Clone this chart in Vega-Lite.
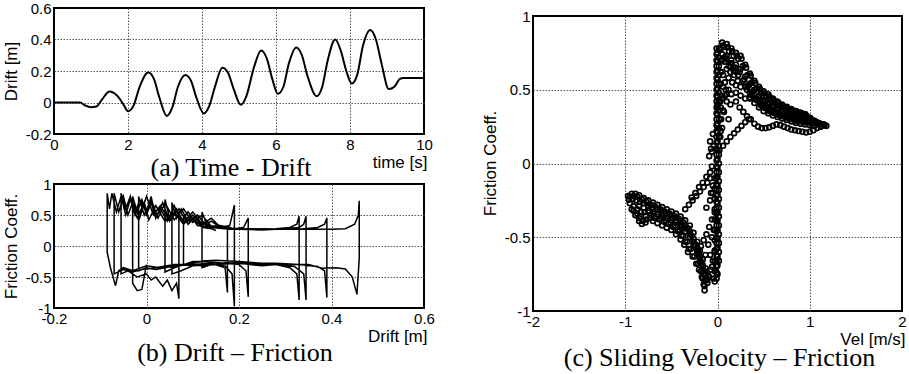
{
"$schema": "https://vega.github.io/schema/vega-lite/v6.json",
"padding": {"left": 0, "top": 0, "right": 0, "bottom": 0},
"background": "white",
"config": {
  "locale": {"number": {"decimal": ".", "thousands": ",", "grouping": [3], "currency": ["$", ""], "minus": "-"}},
  "view": {"stroke": "black", "strokeWidth": 2},
  "axis": {"labelFont": "Liberation Sans", "labelFontSize": 15, "labelColor": "black", "titleFont": "Liberation Sans", "titleFontSize": 17, "titleFontWeight": "normal", "titleColor": "black", "ticks": false, "domain": false, "grid": true, "gridColor": "#555555", "gridDash": [1.5, 1.5], "gridWidth": 1, "labelOverlap": false, "labelFlush": false, "labelPadding": 3, "format": "~r"},
  "title": {"font": "Liberation Serif", "fontSize": 26, "fontWeight": "normal", "color": "black", "orient": "bottom", "anchor": "middle", "baseline": "alphabetic", "frame": "group"}
},
"datasets": {
  "drift": [
    {"t":0,"y":0},{"t":0.5,"y":0},{"t":0.7,"y":0},{"t":0.85,"y":-0.02},{"t":1.0,"y":-0.03},{"t":1.15,"y":-0.025},{"t":1.3,"y":0.02},{"t":1.5,"y":0.07},{"t":1.7,"y":0.045},{"t":1.87,"y":-0.01},{"t":2.0,"y":-0.055},{"t":2.15,"y":-0.02},{"t":2.3,"y":0.09},{"t":2.55,"y":0.19},{"t":2.7,"y":0.15},{"t":2.85,"y":0.03},{"t":3.05,"y":-0.085},{"t":3.2,"y":-0.03},{"t":3.35,"y":0.1},{"t":3.55,"y":0.175},{"t":3.7,"y":0.14},{"t":3.85,"y":0.03},{"t":4.05,"y":-0.07},{"t":4.2,"y":-0.02},{"t":4.35,"y":0.1},{"t":4.55,"y":0.22},{"t":4.7,"y":0.19},{"t":4.85,"y":0.09},{"t":5.05,"y":-0.015},{"t":5.2,"y":0.04},{"t":5.4,"y":0.22},{"t":5.6,"y":0.33},{"t":5.75,"y":0.28},{"t":5.9,"y":0.15},{"t":6.05,"y":0.055},{"t":6.2,"y":0.1},{"t":6.35,"y":0.25},{"t":6.55,"y":0.35},{"t":6.7,"y":0.3},{"t":6.85,"y":0.17},{"t":7.1,"y":0.04},{"t":7.25,"y":0.1},{"t":7.4,"y":0.27},{"t":7.6,"y":0.4},{"t":7.75,"y":0.33},{"t":7.9,"y":0.2},{"t":8.05,"y":0.12},{"t":8.2,"y":0.18},{"t":8.35,"y":0.36},{"t":8.55,"y":0.46},{"t":8.7,"y":0.4},{"t":8.85,"y":0.25},{"t":9.05,"y":0.085},{"t":9.2,"y":0.1},{"t":9.35,"y":0.15},{"t":9.45,"y":0.155},{"t":10,"y":0.155}
  ],
  "loop": [
    {"i":1,"d":0,"f":-0.3},{"i":2,"d":-0.01,"f":-0.7},{"i":3,"d":-0.02,"f":-0.72},{"i":4,"d":-0.03,"f":-0.6},
    {"i":5,"d":-0.03,"f":0.8},{"i":6,"d":-0.02,"f":0.55},{"i":7,"d":-0.01,"f":0.75},{"i":8,"d":0,"f":0.5},{"i":9,"d":0.01,"f":0.7},{"i":10,"d":0.02,"f":0.45},{"i":11,"d":0.03,"f":0.6},{"i":12,"d":0.045,"f":0.4},{"i":13,"d":0.055,"f":0.55},{"i":14,"d":0.07,"f":0.45},
    {"i":15,"d":0.07,"f":-0.85},{"i":16,"d":0.065,"f":-0.6},{"i":17,"d":0.055,"f":-0.72},{"i":18,"d":0.045,"f":-0.55},{"i":19,"d":0.035,"f":-0.65},{"i":20,"d":0.02,"f":-0.5},{"i":21,"d":0.01,"f":-0.55},{"i":22,"d":0,"f":-0.45},{"i":23,"d":-0.02,"f":-0.5},{"i":24,"d":-0.04,"f":-0.4},{"i":25,"d":-0.055,"f":-0.45},
    {"i":26,"d":-0.055,"f":0.85},{"i":27,"d":-0.045,"f":0.6},{"i":28,"d":-0.035,"f":0.8},{"i":29,"d":-0.025,"f":0.5},{"i":30,"d":-0.015,"f":0.75},{"i":31,"d":0,"f":0.55},{"i":32,"d":0.01,"f":0.8},{"i":33,"d":0.02,"f":0.45},{"i":34,"d":0.035,"f":0.7},{"i":35,"d":0.05,"f":0.4},{"i":36,"d":0.065,"f":0.6},{"i":37,"d":0.08,"f":0.38},{"i":38,"d":0.1,"f":0.55},{"i":39,"d":0.12,"f":0.35},{"i":40,"d":0.14,"f":0.45},{"i":41,"d":0.16,"f":0.3},{"i":42,"d":0.18,"f":0.33},{"i":43,"d":0.19,"f":0.66},
    {"i":44,"d":0.19,"f":-0.97},{"i":45,"d":0.185,"f":-0.45},{"i":46,"d":0.17,"f":-0.32},{"i":47,"d":0.15,"f":-0.3},{"i":48,"d":0.12,"f":-0.32},{"i":49,"d":0.09,"f":-0.3},{"i":50,"d":0.06,"f":-0.33},{"i":51,"d":0.03,"f":-0.35},{"i":52,"d":0,"f":-0.32},{"i":53,"d":-0.03,"f":-0.4},{"i":54,"d":-0.05,"f":-0.35},{"i":55,"d":-0.06,"f":-0.4},{"i":56,"d":-0.067,"f":-0.64},{"i":57,"d":-0.078,"f":-0.35},{"i":58,"d":-0.085,"f":-0.1},
    {"i":59,"d":-0.085,"f":0.85},{"i":60,"d":-0.08,"f":0.6},{"i":61,"d":-0.075,"f":0.85},{"i":62,"d":-0.065,"f":0.55},{"i":63,"d":-0.055,"f":0.8},{"i":64,"d":-0.045,"f":0.5},{"i":65,"d":-0.035,"f":0.75},{"i":66,"d":-0.02,"f":0.45},{"i":67,"d":-0.005,"f":0.7},{"i":68,"d":0.005,"f":0.42},{"i":69,"d":0.02,"f":0.65},{"i":70,"d":0.04,"f":0.4},{"i":71,"d":0.06,"f":0.55},{"i":72,"d":0.08,"f":0.35},{"i":73,"d":0.1,"f":0.5},{"i":74,"d":0.12,"f":0.33},{"i":75,"d":0.14,"f":0.4},{"i":76,"d":0.16,"f":0.3},{"i":77,"d":0.175,"f":0.32},
    {"i":78,"d":0.175,"f":-0.75},{"i":79,"d":0.17,"f":-0.35},{"i":80,"d":0.14,"f":-0.28},{"i":81,"d":0.1,"f":-0.3},{"i":82,"d":0.06,"f":-0.3},{"i":83,"d":0.02,"f":-0.35},{"i":84,"d":-0.01,"f":-0.38},{"i":85,"d":-0.03,"f":-0.42},{"i":86,"d":-0.05,"f":-0.38},{"i":87,"d":-0.07,"f":-0.45},
    {"i":88,"d":-0.07,"f":0.85},{"i":89,"d":-0.06,"f":0.55},{"i":90,"d":-0.05,"f":0.8},{"i":91,"d":-0.04,"f":0.5},{"i":92,"d":-0.03,"f":0.7},{"i":93,"d":-0.015,"f":0.45},{"i":94,"d":0,"f":0.8},{"i":95,"d":0.015,"f":0.5},{"i":96,"d":0.03,"f":0.65},{"i":97,"d":0.05,"f":0.4},{"i":98,"d":0.07,"f":0.6},{"i":99,"d":0.09,"f":0.35},{"i":100,"d":0.11,"f":0.5},{"i":101,"d":0.13,"f":0.32},{"i":102,"d":0.16,"f":0.33},{"i":103,"d":0.19,"f":0.28},{"i":104,"d":0.21,"f":0.3},{"i":105,"d":0.22,"f":0.45},
    {"i":106,"d":0.22,"f":-0.82},{"i":107,"d":0.215,"f":-0.4},{"i":108,"d":0.2,"f":-0.3},{"i":109,"d":0.17,"f":-0.28},{"i":110,"d":0.13,"f":-0.3},{"i":111,"d":0.1,"f":-0.32},{"i":112,"d":0.07,"f":-0.3},{"i":113,"d":0.04,"f":-0.35},{"i":114,"d":0.02,"f":-0.38},{"i":115,"d":0,"f":-0.35},{"i":116,"d":-0.017,"f":-0.4},
    {"i":117,"d":-0.017,"f":0.8},{"i":118,"d":-0.005,"f":0.5},{"i":119,"d":0.01,"f":0.75},{"i":120,"d":0.025,"f":0.45},{"i":121,"d":0.04,"f":0.7},{"i":122,"d":0.06,"f":0.42},{"i":123,"d":0.08,"f":0.6},{"i":124,"d":0.1,"f":0.38},{"i":125,"d":0.12,"f":0.5},{"i":126,"d":0.14,"f":0.32},{"i":127,"d":0.17,"f":0.3},{"i":128,"d":0.2,"f":0.27},{"i":129,"d":0.24,"f":0.27},{"i":130,"d":0.28,"f":0.28},{"i":131,"d":0.31,"f":0.3},{"i":132,"d":0.325,"f":0.35},{"i":133,"d":0.33,"f":0.48},
    {"i":134,"d":0.33,"f":-0.87},{"i":135,"d":0.325,"f":-0.45},{"i":136,"d":0.31,"f":-0.35},{"i":137,"d":0.28,"f":-0.3},{"i":138,"d":0.25,"f":-0.32},{"i":139,"d":0.2,"f":-0.28},{"i":140,"d":0.15,"f":-0.3},{"i":141,"d":0.1,"f":-0.32},{"i":142,"d":0.075,"f":-0.4},{"i":143,"d":0.055,"f":-0.45},
    {"i":144,"d":0.055,"f":0.7},{"i":145,"d":0.065,"f":0.45},{"i":146,"d":0.075,"f":0.6},{"i":147,"d":0.09,"f":0.4},{"i":148,"d":0.11,"f":0.5},{"i":149,"d":0.13,"f":0.33},{"i":150,"d":0.16,"f":0.3},{"i":151,"d":0.2,"f":0.27},{"i":152,"d":0.25,"f":0.26},{"i":153,"d":0.3,"f":0.28},{"i":154,"d":0.33,"f":0.3},{"i":155,"d":0.34,"f":0.35},{"i":156,"d":0.345,"f":0.48},
    {"i":157,"d":0.345,"f":-0.87},{"i":158,"d":0.34,"f":-0.45},{"i":159,"d":0.32,"f":-0.33},{"i":160,"d":0.28,"f":-0.3},{"i":161,"d":0.22,"f":-0.29},{"i":162,"d":0.16,"f":-0.27},{"i":163,"d":0.12,"f":-0.25},{"i":164,"d":0.08,"f":-0.3},{"i":165,"d":0.06,"f":-0.35},{"i":166,"d":0.04,"f":-0.42},
    {"i":167,"d":0.04,"f":0.75},{"i":168,"d":0.05,"f":0.45},{"i":169,"d":0.06,"f":0.65},{"i":170,"d":0.075,"f":0.4},{"i":171,"d":0.09,"f":0.55},{"i":172,"d":0.11,"f":0.33},{"i":173,"d":0.14,"f":0.3},{"i":174,"d":0.18,"f":0.27},{"i":175,"d":0.23,"f":0.28},{"i":176,"d":0.28,"f":0.27},{"i":177,"d":0.33,"f":0.27},{"i":178,"d":0.37,"f":0.3},{"i":179,"d":0.385,"f":0.35},{"i":180,"d":0.39,"f":0.45},
    {"i":181,"d":0.39,"f":-0.83},{"i":182,"d":0.385,"f":-0.4},{"i":183,"d":0.37,"f":-0.33},{"i":184,"d":0.33,"f":-0.3},{"i":185,"d":0.28,"f":-0.28},{"i":186,"d":0.22,"f":-0.28},{"i":187,"d":0.17,"f":-0.27},{"i":188,"d":0.14,"f":-0.3},{"i":189,"d":0.12,"f":-0.35},
    {"i":190,"d":0.12,"f":0.55},{"i":191,"d":0.13,"f":0.35},{"i":192,"d":0.15,"f":0.3},{"i":193,"d":0.2,"f":0.27},{"i":194,"d":0.25,"f":0.27},{"i":195,"d":0.3,"f":0.27},{"i":196,"d":0.35,"f":0.27},{"i":197,"d":0.4,"f":0.27},{"i":198,"d":0.43,"f":0.28},{"i":199,"d":0.45,"f":0.35},{"i":200,"d":0.458,"f":0.5},{"i":201,"d":0.46,"f":0.73},
    {"i":202,"d":0.46,"f":-0.2},{"i":203,"d":0.455,"f":-0.78},{"i":204,"d":0.445,"f":-0.5},{"i":205,"d":0.43,"f":-0.37},{"i":206,"d":0.41,"f":-0.35},{"i":207,"d":0.38,"f":-0.36},{"i":208,"d":0.35,"f":-0.3},{"i":209,"d":0.3,"f":-0.3},{"i":210,"d":0.25,"f":-0.28},{"i":211,"d":0.2,"f":-0.25},{"i":212,"d":0.15,"f":-0.23},{"i":213,"d":0.1,"f":-0.25},{"i":214,"d":0.08,"f":-0.3},
    {"i":215,"d":0.08,"f":0.5},{"i":216,"d":0.09,"f":0.35},{"i":217,"d":0.1,"f":0.45},{"i":218,"d":0.12,"f":0.3},{"i":219,"d":0.14,"f":0.28},{"i":220,"d":0.15,"f":0.25}
  ],
  "vel": [
    {"v":0.05,"f":0.82},{"v":0.1,"f":0.81},{"v":0.15,"f":0.78},{"v":0.2,"f":0.75},{"v":0.25,"f":0.73},{"v":0.3,"f":0.67},{"v":0.35,"f":0.61},{"v":0.4,"f":0.56},{"v":0.45,"f":0.52},{"v":0.5,"f":0.49},{"v":0.55,"f":0.47},{"v":0.6,"f":0.44},{"v":0.65,"f":0.42},{"v":0.7,"f":0.4},{"v":0.75,"f":0.385},{"v":0.8,"f":0.37},{"v":0.85,"f":0.355},{"v":0.9,"f":0.345},{"v":0.95,"f":0.335},{"v":1.0,"f":0.31},{"v":1.05,"f":0.29},{"v":1.1,"f":0.275},{"v":1.15,"f":0.265},{"v":1.18,"f":0.255},
    {"v":0.06,"f":0.8},{"v":0.11,"f":0.79},{"v":0.16,"f":0.76},{"v":0.21,"f":0.73},{"v":0.26,"f":0.71},{"v":0.31,"f":0.65},{"v":0.36,"f":0.595},{"v":0.41,"f":0.545},{"v":0.46,"f":0.505},{"v":0.51,"f":0.475},{"v":0.56,"f":0.455},{"v":0.61,"f":0.43},{"v":0.66,"f":0.41},{"v":0.71,"f":0.39},{"v":0.76,"f":0.375},{"v":0.81,"f":0.36},{"v":0.86,"f":0.35},{"v":0.91,"f":0.34},{"v":0.96,"f":0.325},{"v":1.01,"f":0.305},{"v":1.06,"f":0.285},{"v":1.11,"f":0.27},{"v":1.16,"f":0.26},
    {"v":0.03,"f":0.78},{"v":0.075,"f":0.79},{"v":0.125,"f":0.76},{"v":0.175,"f":0.73},{"v":0.225,"f":0.71},{"v":0.275,"f":0.66},{"v":0.325,"f":0.6},{"v":0.375,"f":0.55},{"v":0.425,"f":0.51},{"v":0.475,"f":0.48},{"v":0.525,"f":0.455},{"v":0.575,"f":0.435},{"v":0.625,"f":0.415},{"v":0.675,"f":0.395},{"v":0.725,"f":0.38},{"v":0.775,"f":0.365},{"v":0.825,"f":0.35},{"v":0.875,"f":0.34},{"v":0.925,"f":0.33},{"v":0.975,"f":0.315},{"v":1.025,"f":0.295},{"v":1.075,"f":0.28},{"v":1.125,"f":0.265},
    {"v":0.05,"f":0.74},{"v":0.1,"f":0.73},{"v":0.15,"f":0.7},{"v":0.2,"f":0.67},{"v":0.25,"f":0.64},{"v":0.3,"f":0.59},{"v":0.35,"f":0.54},{"v":0.4,"f":0.5},{"v":0.45,"f":0.46},{"v":0.5,"f":0.43},{"v":0.55,"f":0.41},{"v":0.6,"f":0.39},{"v":0.65,"f":0.37},{"v":0.7,"f":0.36},{"v":0.75,"f":0.345},{"v":0.8,"f":0.335},{"v":0.85,"f":0.325},{"v":0.9,"f":0.315},{"v":0.95,"f":0.305},{"v":1.0,"f":0.29},{"v":1.05,"f":0.275},{"v":1.1,"f":0.265},
    {"v":0.09,"f":0.71},{"v":0.14,"f":0.68},{"v":0.19,"f":0.65},{"v":0.24,"f":0.62},{"v":0.29,"f":0.57},{"v":0.34,"f":0.53},{"v":0.39,"f":0.49},{"v":0.44,"f":0.45},{"v":0.49,"f":0.42},{"v":0.54,"f":0.4},{"v":0.59,"f":0.38},{"v":0.64,"f":0.365},{"v":0.69,"f":0.35},{"v":0.74,"f":0.34},{"v":0.79,"f":0.33},{"v":0.84,"f":0.32},{"v":0.89,"f":0.31},{"v":0.94,"f":0.3},{"v":0.99,"f":0.29},{"v":1.04,"f":0.28},{"v":1.09,"f":0.27},
    {"v":0.075,"f":0.69},{"v":0.125,"f":0.66},{"v":0.175,"f":0.63},{"v":0.225,"f":0.6},{"v":0.275,"f":0.56},{"v":0.325,"f":0.52},{"v":0.375,"f":0.48},{"v":0.425,"f":0.44},{"v":0.475,"f":0.41},{"v":0.525,"f":0.39},{"v":0.575,"f":0.37},{"v":0.625,"f":0.355},{"v":0.675,"f":0.34},{"v":0.725,"f":0.33},{"v":0.775,"f":0.32},{"v":0.825,"f":0.31},{"v":0.875,"f":0.3},{"v":0.925,"f":0.295},{"v":0.975,"f":0.285},{"v":1.025,"f":0.275},
    {"v":0.32,"f":0.5},{"v":0.37,"f":0.465},{"v":0.42,"f":0.43},{"v":0.47,"f":0.395},{"v":0.52,"f":0.375},{"v":0.57,"f":0.355},{"v":0.62,"f":0.34},{"v":0.67,"f":0.33},{"v":0.72,"f":0.32},{"v":0.77,"f":0.31},{"v":0.82,"f":0.305},{"v":0.87,"f":0.295},{"v":0.92,"f":0.29},{"v":0.97,"f":0.28},{"v":1.02,"f":0.27},
    {"v":0.3,"f":0.52},{"v":0.35,"f":0.48},{"v":0.4,"f":0.44},{"v":0.45,"f":0.41},{"v":0.5,"f":0.38},{"v":0.55,"f":0.36},{"v":0.6,"f":0.345},{"v":0.65,"f":0.33},{"v":0.7,"f":0.32},{"v":0.75,"f":0.31},{"v":0.8,"f":0.3},{"v":0.85,"f":0.29},{"v":0.9,"f":0.285},{"v":0.95,"f":0.28},
    {"v":0.35,"f":0.44},{"v":0.4,"f":0.41},{"v":0.45,"f":0.38},{"v":0.5,"f":0.355},{"v":0.55,"f":0.34},{"v":0.6,"f":0.325},{"v":0.65,"f":0.315},{"v":0.7,"f":0.305},{"v":0.75,"f":0.295},{"v":0.8,"f":0.285},{"v":0.85,"f":0.275},{"v":0.9,"f":0.27},{"v":0.95,"f":0.265},{"v":1.0,"f":0.26},{"v":1.05,"f":0.255},
    {"v":0.0,"f":0.4},{"v":0.05,"f":0.44},{"v":0.1,"f":0.47},{"v":0.15,"f":0.47},{"v":0.2,"f":0.48},{"v":0.25,"f":0.46},{"v":0.3,"f":0.44},{"v":0.35,"f":0.45},{"v":0.4,"f":0.44},{"v":0.45,"f":0.42},
    {"v":0.2,"f":0.42},{"v":0.24,"f":0.38},{"v":0.28,"f":0.35},{"v":0.32,"f":0.32},{"v":0.36,"f":0.3},{"v":0.4,"f":0.27},{"v":0.44,"f":0.25},{"v":0.48,"f":0.24},{"v":0.52,"f":0.24},{"v":0.56,"f":0.245},{"v":0.6,"f":0.255},{"v":0.64,"f":0.265},{"v":0.68,"f":0.26},{"v":0.72,"f":0.25},{"v":0.76,"f":0.24},{"v":0.8,"f":0.23},{"v":0.84,"f":0.225},{"v":0.88,"f":0.22},{"v":0.92,"f":0.215},{"v":0.96,"f":0.21},{"v":1.0,"f":0.215},{"v":1.04,"f":0.225},{"v":1.08,"f":0.24},{"v":1.12,"f":0.25},
    {"v":0.02,"f":0.09},{"v":0.06,"f":0.12},{"v":0.1,"f":0.15},{"v":0.14,"f":0.18},{"v":0.18,"f":0.205},{"v":0.22,"f":0.23},{"v":0.26,"f":0.255},{"v":0.3,"f":0.28},{"v":0.34,"f":0.3},
    {"v":0.08,"f":0.72},{"v":0.1,"f":0.64},{"v":0.12,"f":0.58},{"v":0.08,"f":0.55},{"v":0.14,"f":0.62},{"v":0.16,"f":0.55},{"v":0.18,"f":0.6},{"v":0.2,"f":0.53},{"v":0.12,"f":0.5},{"v":0.22,"f":0.56},{"v":0.06,"f":0.6},{"v":0.09,"f":0.5},{"v":0.15,"f":0.68},{"v":0.25,"f":0.52},{"v":0.2,"f":0.62},{"v":0.1,"f":0.42},{"v":0.14,"f":0.4},{"v":0.07,"f":0.35},{"v":0.12,"f":0.3},
    {"v":0.04,"f":0.3},{"v":0.06,"f":0.36},{"v":0.03,"f":0.42},{"v":0.08,"f":0.46},{"v":0.05,"f":0.24},{"v":0.03,"f":0.18},{"v":-0.04,"f":0.12},{"v":-0.06,"f":0.08},{"v":-0.05,"f":0.2},{"v":0.06,"f":0.52},{"v":0.04,"f":0.62},{"v":0.05,"f":0.7},{"v":-0.08,"f":0.15},{"v":-0.07,"f":0.1},{"v":-0.09,"f":0.05},{"v":-0.06,"f":-0.02},{"v":-0.08,"f":-0.1},{"v":-0.05,"f":-0.15},{"v":-0.07,"f":-0.2},
    {"v":-0.01,"f":-0.78},{"v":-0.01,"f":-0.74},{"v":-0.01,"f":-0.7},{"v":-0.01,"f":-0.66},{"v":-0.01,"f":-0.62},{"v":-0.01,"f":-0.58},{"v":-0.01,"f":-0.54},{"v":-0.01,"f":-0.5},{"v":-0.01,"f":-0.46},{"v":-0.01,"f":-0.42},{"v":-0.01,"f":-0.38},{"v":-0.01,"f":-0.34},{"v":-0.01,"f":-0.3},{"v":-0.01,"f":-0.26},{"v":-0.01,"f":-0.22},{"v":-0.01,"f":-0.18},{"v":-0.01,"f":-0.14},{"v":-0.01,"f":-0.1},{"v":-0.01,"f":-0.06},{"v":-0.01,"f":-0.02},{"v":-0.01,"f":0.02},{"v":-0.01,"f":0.06},{"v":-0.01,"f":0.1},{"v":-0.01,"f":0.14},{"v":-0.01,"f":0.18},{"v":-0.01,"f":0.22},{"v":-0.01,"f":0.26},{"v":-0.01,"f":0.3},{"v":-0.01,"f":0.34},{"v":-0.01,"f":0.38},{"v":-0.01,"f":0.42},{"v":-0.01,"f":0.46},{"v":-0.01,"f":0.5},{"v":-0.01,"f":0.54},{"v":-0.01,"f":0.58},{"v":-0.01,"f":0.62},{"v":-0.01,"f":0.66},{"v":-0.01,"f":0.7},{"v":-0.01,"f":0.74},{"v":-0.01,"f":0.78},
    {"v":0.0,"f":-0.75},{"v":0.0,"f":-0.69},{"v":0.0,"f":-0.63},{"v":0.0,"f":-0.57},{"v":0.0,"f":-0.51},{"v":0.0,"f":-0.45},{"v":0.0,"f":-0.39},{"v":0.0,"f":-0.33},{"v":0.0,"f":-0.27},{"v":0.0,"f":-0.21},{"v":0.0,"f":-0.15},{"v":0.0,"f":-0.09},{"v":0.0,"f":-0.03},{"v":0.0,"f":0.03},{"v":0.0,"f":0.09},{"v":0.0,"f":0.15},{"v":0.0,"f":0.21},{"v":0.0,"f":0.27},{"v":0.0,"f":0.33},{"v":0.0,"f":0.39},{"v":0.0,"f":0.45},{"v":0.0,"f":0.51},{"v":0.0,"f":0.57},{"v":0.0,"f":0.63},{"v":0.0,"f":0.69},{"v":0.0,"f":0.75},
    {"v":0.015,"f":-0.66},{"v":0.015,"f":-0.6},{"v":0.015,"f":-0.54},{"v":0.015,"f":-0.48},{"v":0.015,"f":-0.42},{"v":0.015,"f":-0.36},{"v":0.015,"f":-0.3},{"v":0.015,"f":-0.24},{"v":0.015,"f":-0.18},{"v":0.015,"f":-0.12},{"v":0.015,"f":-0.06},{"v":0.015,"f":0},{"v":0.015,"f":0.06},{"v":0.015,"f":0.12},{"v":0.015,"f":0.18},{"v":0.015,"f":0.24},{"v":0.015,"f":0.3},{"v":0.015,"f":0.36},{"v":0.015,"f":0.42},{"v":0.015,"f":0.48},{"v":0.015,"f":0.54},{"v":0.015,"f":0.6},{"v":0.015,"f":0.66},{"v":0.015,"f":0.72},{"v":0.015,"f":0.78},
    {"v":-0.03,"f":-0.8},{"v":-0.03,"f":-0.73},{"v":-0.03,"f":-0.66},{"v":-0.03,"f":-0.59},{"v":-0.03,"f":-0.52},{"v":-0.03,"f":-0.45},{"v":-0.03,"f":-0.38},{"v":-0.03,"f":-0.31},{"v":-0.03,"f":-0.24},{"v":-0.03,"f":-0.17},{"v":-0.03,"f":-0.1},
    {"v":0.035,"f":0.22},{"v":0.035,"f":0.3},{"v":0.035,"f":0.38},{"v":0.035,"f":0.46},{"v":0.035,"f":0.54},{"v":0.035,"f":0.62},{"v":0.035,"f":0.7},{"v":0.035,"f":0.78},
    {"v":-0.97,"f":-0.22},{"v":-0.93,"f":-0.205},{"v":-0.89,"f":-0.205},{"v":-0.85,"f":-0.215},{"v":-0.8,"f":-0.235},{"v":-0.75,"f":-0.25},{"v":-0.7,"f":-0.265},{"v":-0.65,"f":-0.28},{"v":-0.6,"f":-0.295},{"v":-0.55,"f":-0.31},{"v":-0.5,"f":-0.325},{"v":-0.45,"f":-0.34},{"v":-0.4,"f":-0.36},{"v":-0.35,"f":-0.385},{"v":-0.3,"f":-0.42},{"v":-0.26,"f":-0.47},{"v":-0.22,"f":-0.53},{"v":-0.19,"f":-0.59},{"v":-0.16,"f":-0.65},{"v":-0.13,"f":-0.71},{"v":-0.1,"f":-0.76},
    {"v":-0.95,"f":-0.225},{"v":-0.91,"f":-0.22},{"v":-0.87,"f":-0.225},{"v":-0.82,"f":-0.245},{"v":-0.77,"f":-0.26},{"v":-0.72,"f":-0.28},{"v":-0.67,"f":-0.295},{"v":-0.62,"f":-0.31},{"v":-0.57,"f":-0.325},{"v":-0.52,"f":-0.34},{"v":-0.47,"f":-0.355},{"v":-0.42,"f":-0.375},{"v":-0.37,"f":-0.4},{"v":-0.32,"f":-0.44},{"v":-0.28,"f":-0.49},{"v":-0.24,"f":-0.55},{"v":-0.2,"f":-0.61},{"v":-0.17,"f":-0.67},{"v":-0.14,"f":-0.73},{"v":-0.12,"f":-0.78},
    {"v":-0.96,"f":-0.245},{"v":-0.92,"f":-0.24},{"v":-0.88,"f":-0.25},{"v":-0.84,"f":-0.26},{"v":-0.8,"f":-0.27},{"v":-0.75,"f":-0.285},{"v":-0.7,"f":-0.3},{"v":-0.65,"f":-0.31},{"v":-0.6,"f":-0.325},{"v":-0.55,"f":-0.34},{"v":-0.5,"f":-0.355},{"v":-0.45,"f":-0.37},{"v":-0.4,"f":-0.39},{"v":-0.35,"f":-0.42},{"v":-0.3,"f":-0.46},{"v":-0.26,"f":-0.51},{"v":-0.22,"f":-0.57},{"v":-0.19,"f":-0.63},{"v":-0.16,"f":-0.69},{"v":-0.13,"f":-0.75},{"v":-0.11,"f":-0.79},
    {"v":-0.95,"f":-0.27},{"v":-0.91,"f":-0.29},{"v":-0.87,"f":-0.31},{"v":-0.83,"f":-0.33},{"v":-0.79,"f":-0.33},{"v":-0.75,"f":-0.32},{"v":-0.7,"f":-0.33},{"v":-0.65,"f":-0.345},{"v":-0.6,"f":-0.355},{"v":-0.55,"f":-0.37},{"v":-0.5,"f":-0.385},{"v":-0.45,"f":-0.4},{"v":-0.4,"f":-0.43},{"v":-0.35,"f":-0.46},{"v":-0.3,"f":-0.5},{"v":-0.26,"f":-0.55},{"v":-0.22,"f":-0.61},{"v":-0.19,"f":-0.67},{"v":-0.16,"f":-0.73},{"v":-0.14,"f":-0.79},
    {"v":-0.91,"f":-0.32},{"v":-0.87,"f":-0.34},{"v":-0.83,"f":-0.36},{"v":-0.78,"f":-0.355},{"v":-0.72,"f":-0.35},{"v":-0.66,"f":-0.36},{"v":-0.61,"f":-0.37},{"v":-0.56,"f":-0.385},{"v":-0.51,"f":-0.4},{"v":-0.46,"f":-0.42},{"v":-0.41,"f":-0.45},{"v":-0.37,"f":-0.49},{"v":-0.33,"f":-0.53},{"v":-0.29,"f":-0.58},{"v":-0.25,"f":-0.63},{"v":-0.21,"f":-0.68},{"v":-0.18,"f":-0.73},{"v":-0.16,"f":-0.78},
    {"v":-0.93,"f":-0.31},{"v":-0.89,"f":-0.35},{"v":-0.85,"f":-0.37},{"v":-0.81,"f":-0.39},{"v":-0.77,"f":-0.38},{"v":-0.73,"f":-0.37},{"v":-0.68,"f":-0.37},{"v":-0.63,"f":-0.38},{"v":-0.58,"f":-0.395},{"v":-0.53,"f":-0.41},{"v":-0.48,"f":-0.43},{"v":-0.43,"f":-0.46},{"v":-0.39,"f":-0.49},{"v":-0.35,"f":-0.53},{"v":-0.31,"f":-0.58},{"v":-0.27,"f":-0.63},{"v":-0.23,"f":-0.68},{"v":-0.2,"f":-0.72},{"v":-0.17,"f":-0.77},{"v":-0.15,"f":-0.82},{"v":-0.14,"f":-0.86},
    {"v":-0.85,"f":-0.39},{"v":-0.82,"f":-0.41},{"v":-0.78,"f":-0.4},{"v":-0.7,"f":-0.39},{"v":-0.65,"f":-0.405},{"v":-0.6,"f":-0.42},{"v":-0.55,"f":-0.435},{"v":-0.5,"f":-0.45},{"v":-0.45,"f":-0.48},{"v":-0.4,"f":-0.515},{"v":-0.36,"f":-0.55},{"v":-0.32,"f":-0.6},
    {"v":-0.85,"f":-0.29},{"v":-0.8,"f":-0.3},{"v":-0.75,"f":-0.3},{"v":-0.7,"f":-0.31},{"v":-0.6,"f":-0.34},{"v":-0.5,"f":-0.37},{"v":-0.45,"f":-0.385},{"v":-0.4,"f":-0.41},{"v":-0.35,"f":-0.44},{"v":-0.3,"f":-0.48},{"v":-0.26,"f":-0.53},{"v":-0.22,"f":-0.59},{"v":-0.19,"f":-0.65},{"v":-0.16,"f":-0.71},
    {"v":-0.28,"f":-0.23},{"v":-0.24,"f":-0.2},{"v":-0.2,"f":-0.16},{"v":-0.16,"f":-0.13},{"v":-0.12,"f":-0.09},{"v":-0.08,"f":-0.06},
    {"v":-0.35,"f":-0.31},{"v":-0.31,"f":-0.28},{"v":-0.27,"f":-0.25},{"v":-0.23,"f":-0.22},{"v":-0.19,"f":-0.19},{"v":-0.15,"f":-0.16},{"v":-0.11,"f":-0.13},
    {"v":-0.03,"f":-0.33},{"v":-0.06,"f":-0.38},{"v":-0.09,"f":-0.43},{"v":-0.12,"f":-0.48},{"v":-0.15,"f":-0.52},{"v":-0.18,"f":-0.56},{"v":-0.21,"f":-0.59},
    {"v":-0.03,"f":-0.6},{"v":-0.05,"f":-0.66},{"v":-0.07,"f":-0.72},{"v":-0.09,"f":-0.77},{"v":-0.11,"f":-0.81},
    {"v":-0.08,"f":-0.25},{"v":-0.12,"f":-0.3},{"v":-0.05,"f":-0.2},{"v":-0.1,"f":-0.55},{"v":-0.06,"f":-0.5},{"v":-0.08,"f":-0.62},{"v":-0.04,"f":-0.45},{"v":-0.13,"f":-0.62},{"v":-0.06,"f":-0.7},{"v":-0.04,"f":-0.78},{"v":-0.14,"f":-0.83}
  ]
},
"hconcat": [
  {
    "vconcat": [
      {
        "width": 370, "height": 126,
        "data": {"name": "drift"},
        "mark": {"type": "line", "color": "black", "strokeWidth": 2, "interpolate": "monotone"},
        "encoding": {
          "x": {"field": "t", "type": "quantitative", "scale": {"domain": [0, 10], "nice": false},
                "axis": {"values": [0, 2, 4, 6, 8, 10], "title": "time [s]", "titleX": 373, "titleY": 33, "titleAlign": "right", "titleBaseline": "alphabetic",
                         "gridOpacity": {"condition": {"test": "datum.value <= 0 || datum.value >= 10", "value": 0}, "value": 1}}},
          "y": {"field": "y", "type": "quantitative", "scale": {"domain": [-0.2, 0.6], "nice": false},
                "axis": {"values": [-0.2, 0, 0.2, 0.4, 0.6], "title": "Drift [m]", "titleX": -43, "titleY": 63, "titleAlign": "center", "titleBaseline": "middle",
                         "gridOpacity": {"condition": {"test": "datum.value <= -0.2 || datum.value >= 0.6", "value": 0}, "value": 1}}}
        },
        "title": {"text": "(a) Time - Drift", "offset": -15, "dx": -8}
      },
      {
        "width": 370, "height": 124,
        "data": {"name": "loop"},
        "mark": {"type": "line", "color": "black", "strokeWidth": 1.5},
        "encoding": {
          "x": {"field": "d", "type": "quantitative", "scale": {"domain": [-0.2, 0.6], "nice": false},
                "axis": {"values": [-0.2, 0, 0.2, 0.4, 0.6], "title": "Drift [m]", "titleX": 373, "titleY": 33, "titleAlign": "right", "titleBaseline": "alphabetic",
                         "gridOpacity": {"condition": {"test": "datum.value <= -0.2 || datum.value >= 0.6", "value": 0}, "value": 1}}},
          "y": {"field": "f", "type": "quantitative", "scale": {"domain": [-1, 1], "nice": false},
                "axis": {"values": [-1, -0.5, 0, 0.5, 1], "title": "Friction Coeff.", "titleX": -43, "titleY": 62, "titleAlign": "center", "titleBaseline": "middle",
                         "gridOpacity": {"condition": {"test": "datum.value <= -1 || datum.value >= 1", "value": 0}, "value": 1}}},
          "order": {"field": "i", "type": "quantitative"}
        },
        "title": {"text": "(b) Drift – Friction", "offset": -4, "dx": -4}
      }
    ],
    "spacing": 50,
    "bounds": "flush"
  },
  {
    "vconcat": [
      {
        "width": 369, "height": 1,
        "data": {"values": []},
        "mark": {"type": "point", "opacity": 0},
        "view": {"stroke": null}
      },
      {
        "width": 369, "height": 295,
        "data": {"name": "vel"},
        "mark": {"type": "point", "shape": "circle", "filled": false, "size": 24, "strokeWidth": 1.7, "color": "black", "opacity": 1},
        "encoding": {
          "x": {"field": "v", "type": "quantitative", "scale": {"domain": [-2, 2], "nice": false},
                "axis": {"values": [-2, -1, 0, 1, 2], "title": "Vel [m/s]", "titleX": 372, "titleY": 33, "titleAlign": "right", "titleBaseline": "alphabetic",
                         "gridOpacity": {"condition": {"test": "datum.value <= -2 || datum.value >= 2", "value": 0}, "value": 1}}},
          "y": {"field": "f", "type": "quantitative", "scale": {"domain": [-1, 1], "nice": false},
                "axis": {"values": [-1, -0.5, 0, 0.5, 1], "title": "Friction Coeff.", "titleX": -43, "titleY": 147, "titleAlign": "center", "titleBaseline": "middle",
                         "gridOpacity": {"condition": {"test": "datum.value <= -1 || datum.value >= 1", "value": 0}, "value": 1}}}
        },
        "title": {"text": "(c) Sliding Velocity – Friction", "offset": -2, "dx": 2}
      }
    ],
    "spacing": 7,
    "bounds": "flush"
  }
],
"spacing": 44
}
